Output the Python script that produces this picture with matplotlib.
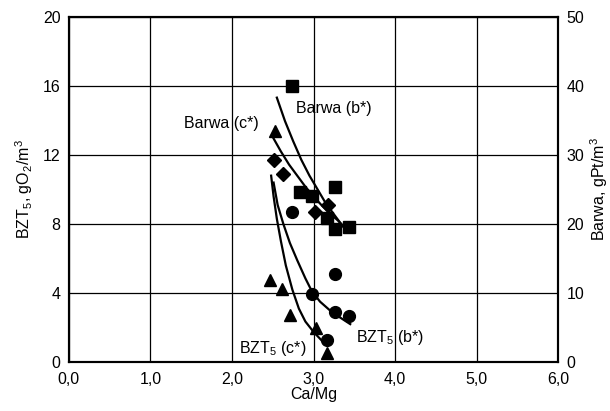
import matplotlib
matplotlib.use("Agg")
import matplotlib.pyplot as plt
from matplotlib.ticker import FuncFormatter

plt.rcParams['font.family'] = ['Liberation Sans', 'DejaVu Sans']
plt.rcParams['mathtext.fontset'] = 'custom'
plt.rcParams['mathtext.rm'] = 'Liberation Sans'
plt.rcParams['mathtext.it'] = 'Liberation Sans'

# --- data (x = Ca/Mg) ---
# Barwa, gPt/m3 (right axis)
sq_x = [2.74, 2.83, 2.98, 3.26, 3.16, 3.26, 3.43]
sq_y = [40.0, 24.6, 24.1, 25.3, 20.8, 19.3, 19.6]
dia_x = [2.52, 2.62, 3.18, 3.02]
dia_y = [29.2, 27.2, 22.7, 21.7]
# BZT5, gO2/m3 (left axis)
tri_x = [2.53, 2.47, 2.61, 2.71, 3.03, 3.16]
tri_y = [13.4, 4.74, 4.26, 2.72, 1.95, 0.5]
cir_x = [2.73, 3.26, 2.98, 3.26, 3.44, 3.16]
cir_y = [8.7, 5.13, 3.97, 2.91, 2.66, 1.27]

# trend curves
barwa_b_x = [2.55, 2.65, 2.75, 2.85, 2.95, 3.05, 3.15, 3.25, 3.37]
barwa_b_y = [38.3, 34.9, 32.0, 29.3, 27.0, 25.0, 23.0, 21.4, 19.5]
barwa_c_x = [2.49, 2.60, 2.70, 2.80, 2.90, 3.00, 3.10, 3.20, 3.30, 3.37]
barwa_c_y = [32.8, 30.5, 28.6, 27.0, 25.4, 24.0, 22.7, 21.5, 20.5, 19.6]
bzt_b_x = [2.51, 2.56, 2.63, 2.71, 2.80, 2.90, 2.98, 3.08, 3.20, 3.32, 3.45]
bzt_b_y = [10.4, 9.1, 8.0, 6.9, 5.9, 4.85, 4.1, 3.5, 3.0, 2.6, 2.2]
bzt_c_x = [2.48, 2.51, 2.55, 2.60, 2.66, 2.74, 2.82, 2.90, 3.00, 3.12]
bzt_c_y = [10.8, 9.6, 8.3, 7.0, 5.6, 4.2, 3.1, 2.35, 1.75, 1.15]

x_ticks = [0, 1, 2, 3, 4, 5, 6]
yl_ticks = [0, 4, 8, 12, 16, 20]
yr_ticks = [0, 10, 20, 30, 40, 50]

fig = plt.figure(figsize=(6.10, 4.11), dpi=100)
ax = fig.add_axes([0.113, 0.119, 0.802, 0.840])
ax2 = ax.twinx()

FS = 11.5
ax.set_xlim(0, 6)
ax.set_ylim(0, 20)
ax2.set_ylim(0, 50)
ax.set_xticks(x_ticks)
ax.set_yticks(yl_ticks)
ax2.set_yticks(yr_ticks)
ax.xaxis.set_major_formatter(FuncFormatter(lambda v, p: f"{v:.1f}".replace('.', ',')))
ax.grid(True, color='black', linewidth=0.9)
ax.set_axisbelow(True)
ax.tick_params(axis='x', length=0, labelsize=FS, pad=7)
ax.tick_params(axis='y', length=0, labelsize=FS, pad=6)
ax2.tick_params(axis='y', length=0, labelsize=FS, pad=6)
for a in (ax, ax2):
    for s in a.spines.values():
        s.set_linewidth(1.5)

ax.set_xlabel('Ca/Mg', fontsize=FS, labelpad=0)
ax.set_ylabel(r'BZT$_5$, gO$_2$/m$^3$', fontsize=FS, labelpad=6)
ax2.set_ylabel(r'Barwa, gPt/m$^3$', fontsize=FS, labelpad=3)

lw = 1.6
ax.plot(bzt_b_x, bzt_b_y, color='black', lw=lw)
ax.plot(bzt_c_x, bzt_c_y, color='black', lw=lw)
ax2.plot(barwa_b_x, barwa_b_y, color='black', lw=lw)
ax2.plot(barwa_c_x, barwa_c_y, color='black', lw=lw)

ax2.plot(sq_x, sq_y, 's', color='black', ms=8.5, ls='none')
ax2.plot(dia_x, dia_y, 'D', color='black', ms=7.5, ls='none')
ax.plot(tri_x, tri_y, '^', color='black', ms=9, ls='none')
ax.plot(cir_x, cir_y, 'o', color='black', ms=8.5, ls='none')

ax.text(3.25, 14.7, 'Barwa (b*)', fontsize=FS, ha='center', va='center')
ax.text(1.87, 13.8, 'Barwa (c*)', fontsize=FS, ha='center', va='center')
ax.text(2.50, 0.8, r'BZT$_5$ (c*)', fontsize=FS, ha='center', va='center')
ax.text(3.94, 1.45, r'BZT$_5$ (b*)', fontsize=FS, ha='center', va='center')

fig.savefig('out.png', dpi=100)
